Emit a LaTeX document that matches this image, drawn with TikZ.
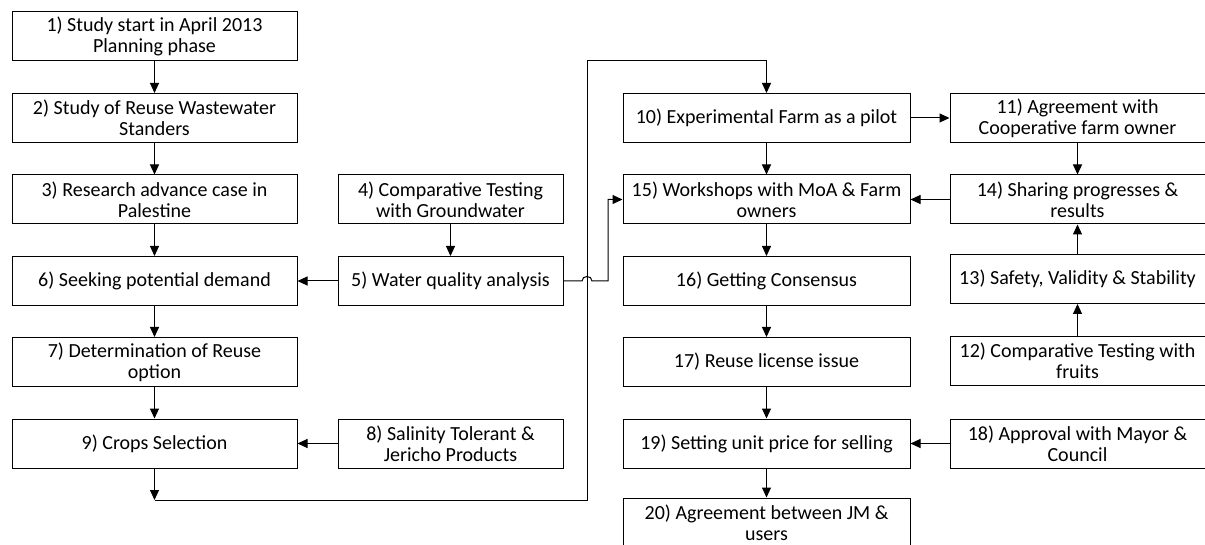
\documentclass[tikz,border=0pt]{standalone}
\usepackage{fontspec}
\setmainfont{Carlito}
\usetikzlibrary{arrows.meta}

\begin{document}
\begin{tikzpicture}[
    x=1pt, y=-1pt,
    font=\fontsize{20}{21}\selectfont,
    stepbox/.style={rectangle, draw, line width=1pt, minimum height=49pt, align=center, inner sep=1pt},
    colA/.style={stepbox, minimum width=285pt},
    colB/.style={stepbox, minimum width=225pt},
    colC/.style={stepbox, minimum width=287pt},
    colD/.style={stepbox, minimum width=255pt},
    arrow/.style={-{Triangle[length=10pt, width=9pt]}, line width=1pt}
]
\useasboundingbox[fill=white] (0,0) rectangle (1205,545);

% Left column
\node[colA] (n1) at (154.5,36.5) {1) Study start in April 2013\\Planning phase};
\node[colA] (n2) at (154.5,118) {2) Study of Reuse Wastewater\\Standers};
\node[colA] (n3) at (154.5,199.5) {3) Research advance case in\\Palestine};
\node[colA] (n6) at (154.5,281) {6) Seeking potential demand};
\node[colA] (n7) at (154.5,362) {7) Determination of Reuse\\option};
\node[colA] (n9) at (154.5,443.5) {9) Crops Selection};

% Middle column
\node[colB] (n4) at (450.5,199.5) {4) Comparative Testing\\with Groundwater};
\node[colB] (n5) at (450.5,281) {5) Water quality analysis};
\node[colB] (n8) at (450.5,443.5) {8) Salinity Tolerant \&\\Jericho Products};

% Third column
\node[colC] (n10) at (766.5,118) {10) Experimental Farm as a pilot};
\node[colC] (n15) at (766.5,199.5) {15) Workshops with MoA \& Farm\\owners};
\node[colC] (n16) at (766.5,281) {16) Getting Consensus};
\node[colC] (n17) at (766.5,362) {17) Reuse license issue};
\node[colC] (n19) at (766.5,443.5) {19) Setting unit price for selling};
\node[colC] (n20) at (766.5,522.5) {20) Agreement between JM \&\\users};

% Right column
\node[colD] (n11) at (1077.5,118) {11) Agreement with\\Cooperative farm owner};
\node[colD] (n14) at (1077.5,199.5) {14) Sharing progresses \&\\results};
\node[colD] (n13) at (1077.5,279) {13) Safety, Validity \& Stability};
\node[colD] (n12) at (1077.5,361) {12) Comparative Testing with\\fruits};
\node[colD] (n18) at (1077.5,443.5) {18) Approval with Mayor \&\\Council};

% Left chain
\draw[arrow] (n1) -- (n2);
\draw[arrow] (n2) -- (n3);
\draw[arrow] (n3) -- (n6);
\draw[arrow] (n6) -- (n7);
\draw[arrow] (n7) -- (n9);
\draw[arrow] (n4) -- (n5);
\draw[arrow] (n5) -- (n6);
\draw[arrow] (n8) -- (n9);

% Long link from crops selection to the pilot farm
\coordinate (c9) at (154.5,500);
\coordinate (c10) at (587,61);
\draw[arrow] (n9.south) -- (c9);
\draw[arrow] (c9) -- (c9 -| c10) -- (c10) -| (n10.north);

% Water quality analysis to workshops, hopping over the long link
\coordinate (hop) at (608,281);
\draw[arrow] (n5.east) -- (582,281) .. controls (582,275) and (592,275) .. (592,281) -- (hop) |- (n15.west);

% Third column chain
\draw[arrow] (n10) -- (n11);
\draw[arrow] (n10) -- (n15);
\draw[arrow] (n15) -- (n16);
\draw[arrow] (n16) -- (n17);
\draw[arrow] (n17) -- (n19);
\draw[arrow] (n19) -- (n20);

% Right column
\draw[arrow] (n11) -- (n14);
\draw[arrow] (n12) -- (n13);
\draw[arrow] (n13) -- (n14);
\draw[arrow] (n14) -- (n15);
\draw[arrow] (n18) -- (n19);

\end{tikzpicture}
\end{document}
